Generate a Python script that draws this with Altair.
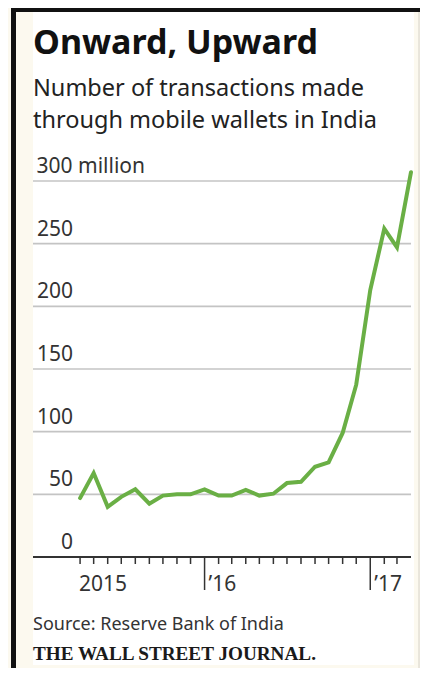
import altair as alt
import pandas as pd

# ---- data ----
months = ["2015-04", "2015-05", "2015-06", "2015-07", "2015-08", "2015-09",
          "2015-10", "2015-11", "2015-12", "2016-01", "2016-02", "2016-03",
          "2016-04", "2016-05", "2016-06", "2016-07", "2016-08", "2016-09",
          "2016-10", "2016-11", "2016-12", "2017-01", "2017-02", "2017-03",
          "2017-04"]
transactions = [47, 67, 40, 48, 54, 42.5, 49, 50, 50, 54, 49, 49, 53.5, 49,
                50.5, 59, 60, 72, 75.5, 99, 137.5, 213, 262, 247, 307]
tick_months = months[:-1]
major_months = ["2016-01", "2017-01"]
y_label_values = [0, 50, 100, 150, 200, 250]
grid_values = [50, 100, 150, 200, 250, 300]
year_labels = ["2015", "\u201916", "\u201917"]
year_label_months = ["2015-04", "2016-01", "2017-01"]

TITLE = "Onward, Upward"
SUB1 = "Number of transactions made"
SUB2 = "through mobile wallets in India"
SOURCE = "Source: Reserve Bank of India"
BRAND = "THE WALL STREET JOURNAL."

SANS = "Noto Sans"
SERIF = "Liberation Serif"
W, H = 378, 376
BG = "#fcf9ef"

line_df = pd.DataFrame({"date": [m + "-01" for m in months], "value": transactions})
tick_df = pd.DataFrame({"date": [m + "-01" for m in tick_months if m not in major_months]})
major_df = pd.DataFrame({"date": [m + "-01" for m in major_months]})
ylab_df = pd.DataFrame({"v": y_label_values, "label": [str(v) for v in y_label_values]})
grid_df = pd.DataFrame({"v": grid_values})
ylab300_df = pd.DataFrame({"v": [300], "label": ["300 million"]})
yr_df = pd.DataFrame({"date": [m + "-01" for m in year_label_months], "label": year_labels})

x_scale = alt.Scale(type="utc",
                    domain=[alt.DateTime(year=2014, month=12, date=18, utc=True),
                            alt.DateTime(year=2017, month=4, date=1, utc=True)])
y_scale = alt.Scale(domain=[0, 300], nice=False, zero=True)

X = alt.X("date:T", scale=x_scale, axis=None)
one = alt.Data(values=[{}])

# ---- frame / background pieces ----
white = alt.Chart(one).mark_rect(color="white").encode(
    x=alt.value(0), x2=alt.value(381), y=alt.value(-175), y2=alt.value(484))
left_bar = alt.Chart(one).mark_rect(color="#111").encode(
    x=alt.value(-22), x2=alt.value(-17), y=alt.value(-175), y2=alt.value(492))
top_bar = alt.Chart(one).mark_rect(color="#111").encode(
    x=alt.value(-22), x2=alt.value(390), y=alt.value(-175), y2=alt.value(-169))
right_line = alt.Chart(one).mark_rule(color="#d6d2c8", strokeWidth=1).encode(
    x=alt.value(386), y=alt.value(-169), y2=alt.value(492))

# ---- grid, axis, ticks ----
grid = alt.Chart(grid_df).mark_rule(color="#c4c4c4", strokeWidth=1.6).encode(
    y=alt.Y("v:Q", scale=y_scale, axis=None), x=alt.value(0), x2=alt.value(W))
axis_line = alt.Chart(one).mark_rule(color="#333", strokeWidth=1.8).encode(
    x=alt.value(0), x2=alt.value(W), y=alt.value(H))
minor_ticks = alt.Chart(tick_df).mark_rule(color="#333", strokeWidth=1.5).encode(
    x=X, y=alt.value(H), y2=alt.value(H + 7))
major_ticks = alt.Chart(major_df).mark_rule(color="#333", strokeWidth=1.5).encode(
    x=X, y=alt.value(H), y2=alt.value(H + 33))

ylabels = alt.Chart(ylab_df).mark_text(
    align="right", baseline="alphabetic", dy=-8, font=SANS, fontSize=21, color="#333"
).encode(y=alt.Y("v:Q", scale=y_scale, axis=None), x=alt.value(40), text="label:N")
ylabel300 = alt.Chart(ylab300_df).mark_text(
    align="left", baseline="alphabetic", dy=-8, font=SANS, fontSize=21, color="#333"
).encode(y=alt.Y("v:Q", scale=y_scale, axis=None), x=alt.value(3.5), text="label:N")

yr_first = alt.Chart(yr_df.iloc[:1]).mark_text(
    align="left", baseline="alphabetic", dx=-1, font=SANS, fontSize=21, color="#333"
).encode(x=X, y=alt.value(H + 34), text="label:N")
yr_rest = alt.Chart(yr_df.iloc[1:]).mark_text(
    align="left", baseline="alphabetic", dx=4, font=SANS, fontSize=21, color="#333"
).encode(x=X, y=alt.value(H + 34), text="label:N")

# ---- the data line ----
line = alt.Chart(line_df).mark_line(color="#6aaf45", strokeWidth=4, strokeCap="round").encode(
    x=X, y=alt.Y("value:Q", scale=y_scale, axis=None))

# ---- titles & notes ----
def txt(s, y, size, weight="normal", font=SANS, color="#222"):
    return alt.Chart(one).mark_text(
        align="left", baseline="alphabetic", font=font, fontSize=size,
        fontWeight=weight, color=color
    ).encode(x=alt.value(0), y=alt.value(y), text=alt.value(s))

title = txt(TITLE, -127, 34, "bold", color="#111")
sub1 = txt(SUB1, -85, 23.5)
sub2 = txt(SUB2, -53, 23.5)
source = txt(SOURCE, 449, 18, color="#333")
brand = txt(BRAND, 479, 19.2, "bold", font=SERIF, color="#1a1a1a")

chart = alt.layer(
    white, left_bar, top_bar, right_line,
    grid, axis_line, minor_ticks, major_ticks,
    ylabels, ylabel300, yr_first, yr_rest,
    line, title, sub1, sub2, source, brand
).properties(
    width=W, height=H,
    background=BG,
    padding={"left": 25, "top": 173, "right": 9, "bottom": 111},
    autosize=alt.AutoSizeParams(type="none"),
).configure_view(stroke=None)

chart.save("out.html", embed_options={"renderer": "svg", "actions": False})
